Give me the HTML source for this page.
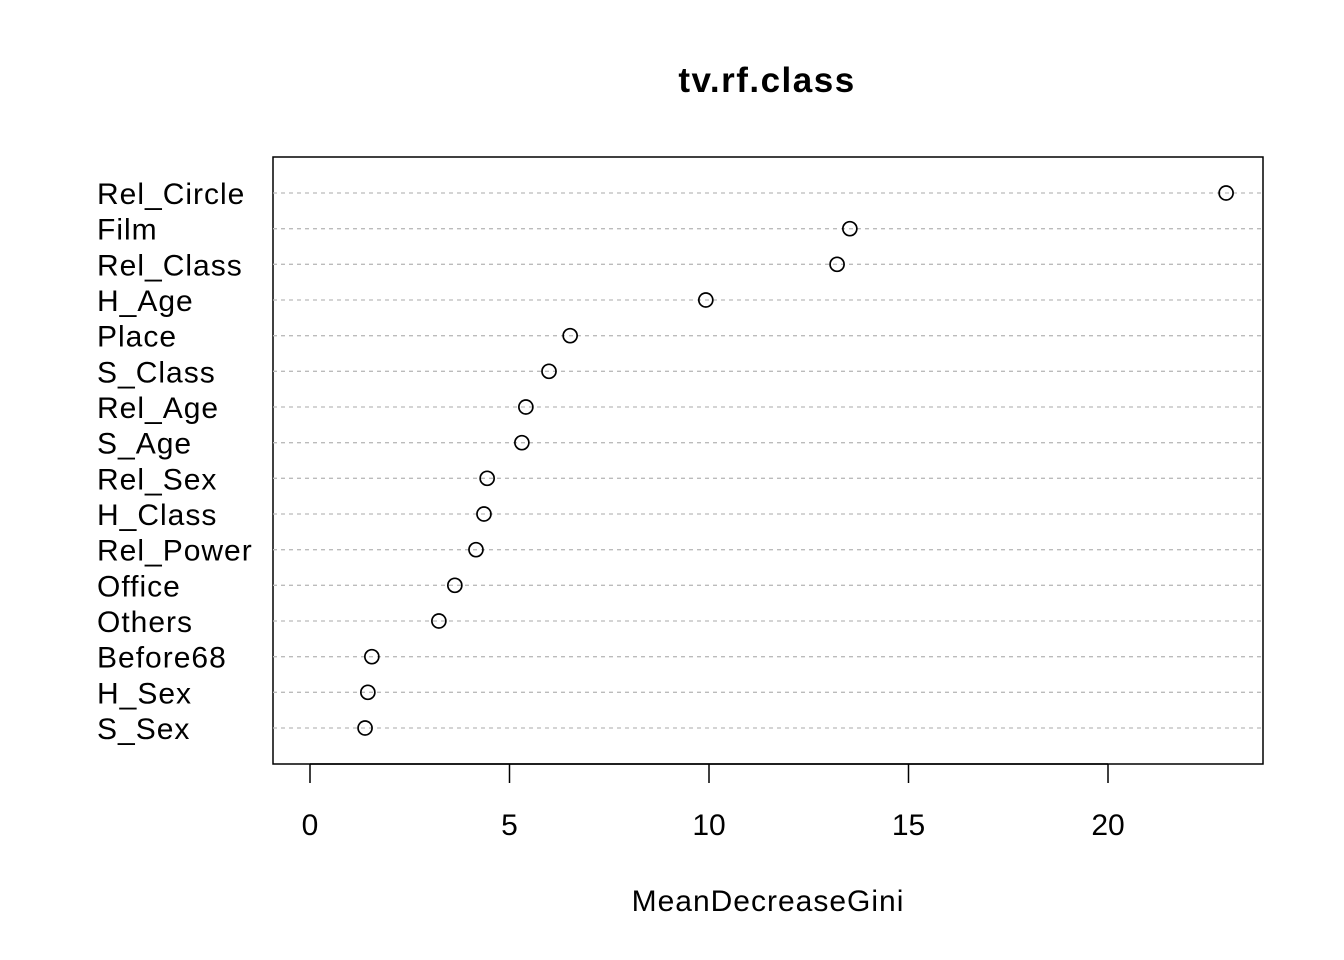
<!DOCTYPE html>
<html><head><meta charset="utf-8"><style>body{margin:0;background:#fff}svg{display:block}text{font-family:"Liberation Sans",Arial,sans-serif}</style></head>
<body>
<svg id="c" width="1344" height="960">
<text x="767" y="92" text-anchor="middle" font-size="35" letter-spacing="1.5" font-weight="bold">tv.rf.class</text>
<rect x="273" y="157" width="990" height="607" fill="none" stroke="#000" stroke-width="1.5"/>
<text x="768" y="911" text-anchor="middle" font-size="30" letter-spacing="1">MeanDecreaseGini</text>
<g id="grid"></g><g id="pts"></g><g id="labels"></g><g id="axis"></g>
</svg>
<script>
const categories=["Rel_Circle","Film","Rel_Class","H_Age","Place","S_Class","Rel_Age","S_Age","Rel_Sex","H_Class","Rel_Power","Office","Others","Before68","H_Sex","S_Sex"];
const values=[22.96,13.53,13.21,9.92,6.52,5.99,5.41,5.31,4.44,4.36,4.16,3.63,3.23,1.55,1.45,1.38];
const ticks=[0,5,10,15,20];
const ns="http://www.w3.org/2000/svg";
const xs=v=>310+v*39.9;
const ys=i=>193+i*(728-193)/(categories.length-1);
function mk(t,a,p){const e=document.createElementNS(ns,t);for(const k in a)e.setAttribute(k,a[k]);document.getElementById(p).appendChild(e);return e;}
categories.forEach((c,i)=>{
 const g=mk("line",{x1:273,x2:1263,y1:ys(i),y2:ys(i),stroke:"#bbb","stroke-width":1.3,"stroke-dasharray":"4,4"},"grid");
 
 
 const p=mk("circle",{cx:xs(values[i]),cy:ys(i),r:7,fill:"none",stroke:"#000","stroke-width":1.7},"pts");
 
 
 const t=mk("text",{x:97,y:ys(i)+11,"font-size":30,"letter-spacing":1},"labels");
 t.textContent=c;
 
 
});
mk("line",{x1:xs(0),x2:xs(20),y1:764,y2:764,stroke:"#000","stroke-width":1.5},"axis");
ticks.forEach(v=>{
 const l=mk("line",{x1:xs(v),x2:xs(v),y1:764,y2:783,stroke:"#000","stroke-width":1.5},"axis");
 
 
 const t=mk("text",{x:xs(v),y:835,"text-anchor":"middle","font-size":30},"axis");
 t.textContent=v;
 
 
});
</script>
</body></html>
